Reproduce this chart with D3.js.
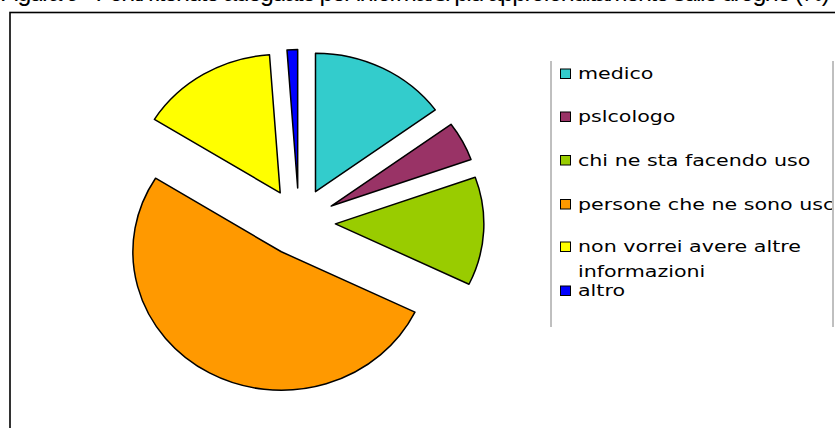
<!DOCTYPE html>
<html>
<head>
<meta charset="utf-8">
<script src="https://cdn.jsdelivr.net/npm/d3@7"></script>
<style>
  body { margin: 0; background: #fff; overflow: hidden; }
  svg { display: block; }
</style>
</head>
<body>
<script>
let w = 835, h = 428;

// data (counts)
let categories = ["medico", "pslcologo", "chi ne sta facendo uso", "persone che ne sono uscite", "non vorrei avere altre informazioni", "altro"];
let legendLines = [["medico"], ["pslcologo"], ["chi ne sta facendo uso"], ["persone che ne sono uscite"], ["non vorrei avere altre", "informazioni"], ["altro"]];
let values = [13, 4, 11, 45, 13, 1];
let colors = ["#33cccc", "#993366", "#99cc00", "#ff9900", "#ffff00", "#0000ff"];
let title = "Figura 9 - Fonti ritenute adeguate per informarsi più approfonditamente sulle droghe (%)";

let svg = d3.select("body").append("svg").attr("width", w).attr("height", h);

// title, mostly cut off at the top edge
svg.append("text")
  .attr("x", 0).attr("y", 0.5)
  .attr("textLength", 830)
  .style("font-family", "Liberation Sans, Arial, sans-serif")
  .style("font-size", "25px")
  .text(title);

// outer frame
svg.append("rect")
  .attr("x", 10).attr("y", 12.5).attr("width", 900).attr("height", 500)
  .attr("fill", "none").attr("stroke", "#000").attr("stroke-width", 1.6);

// exploded pie
let cx = 299, cy = 222, r = 138.5, explode = 34, sx = 1.072;

let pie = d3.pie().sort(null).value(d => d)(values);
let arc = d3.arc().innerRadius(0).outerRadius(r);

let pieGroup = svg.append("g")
  .attr("transform", "translate(" + cx + "," + cy + ") scale(" + sx + ",1)");

pieGroup.selectAll("path")
  .data(pie)
  .enter().append("path")
  .attr("d", arc)
  .attr("transform", d => {
    let a = (d.startAngle + d.endAngle) / 2;
    return "translate(" + (Math.sin(a) * explode) + "," + (-Math.cos(a) * explode) + ")";
  })
  .attr("fill", (d, i) => colors[i])
  .attr("stroke", "#000")
  .attr("stroke-width", 1.5)
  .attr("stroke-linejoin", "round")
  .attr("vector-effect", "non-scaling-stroke");

// legend
let legend = svg.append("g");
legend.append("line").attr("x1", 551).attr("x2", 551).attr("y1", 61).attr("y2", 327)
  .attr("stroke", "#808080").attr("stroke-width", 1);
legend.append("line").attr("x1", 833).attr("x2", 833).attr("y1", 61).attr("y2", 327)
  .attr("stroke", "#808080").attr("stroke-width", 1);

legend.append("clipPath").attr("id", "legclip")
  .append("rect").attr("x", 552).attr("y", 40).attr("width", 280).attr("height", 300);

let baselines = [79, 122, 165.5, 209.5, 252, 296];

let items = legend.selectAll("g.item")
  .data(categories)
  .enter().append("g").attr("class", "item")
  .attr("clip-path", "url(#legclip)");

items.append("rect")
  .attr("x", 560.5).attr("y", (d, i) => baselines[i] - 10)
  .attr("width", 10).attr("height", 9.5)
  .attr("fill", (d, i) => colors[i])
  .attr("stroke", "#000").attr("stroke-width", 1);

items.each(function(d, i) {
  legendLines[i].forEach((t, j) => {
    d3.select(this).append("text")
      .attr("transform", "translate(578," + (baselines[i] + j * 25) + ") scale(1.33,1)")
      .style("font-family", "DejaVu Sans, sans-serif")
      .style("font-size", "15.5px")
      .attr("fill", "#000")
      .text(t);
  });
});
</script>
</body>
</html>
